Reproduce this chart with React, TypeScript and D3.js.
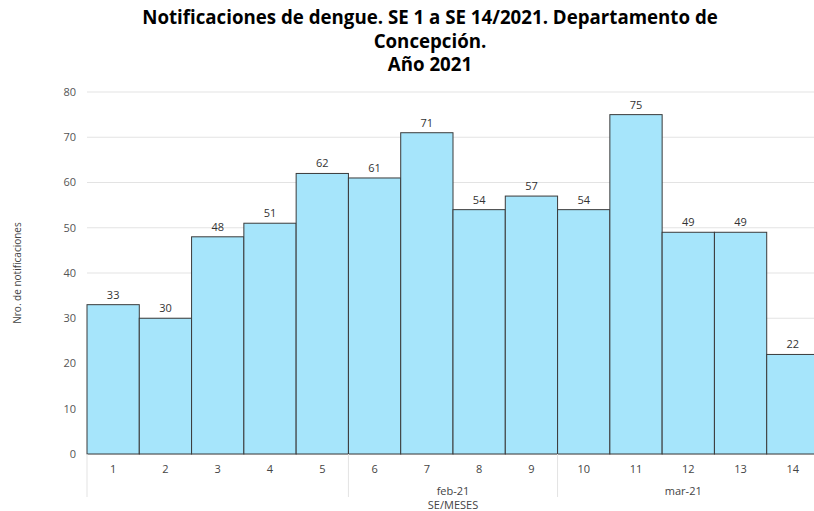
import React from 'react';
import * as d3 from 'd3';

const weeks = ['1', '2', '3', '4', '5', '6', '7', '8', '9', '10', '11', '12', '13', '14'];
const cases = [33, 30, 48, 51, 62, 61, 71, 54, 57, 54, 75, 49, 49, 22];
const months = [
  { label: '', from: '1', to: '5' },
  { label: 'feb-21', from: '6', to: '9' },
  { label: 'mar-21', from: '10', to: '14' },
];
const yTicks = [0, 10, 20, 30, 40, 50, 60, 70, 80];

const W = 814, H = 511;
const left = 87, right = 819, top = 92, bottom = 454;
const font = '"Open Sans", "Noto Sans", sans-serif';

const App: React.FC = () => {
  const x = d3.scaleBand<string>().domain(weeks).range([left, right]).padding(0);
  const y = d3.scaleLinear().domain([0, 80]).range([bottom, top]);

  return (
    <svg width={W} height={H} style={{ position: 'absolute', left: 0, top: 0, fontFamily: font }}>
      <rect width={W} height={H} fill="#fff" />
      {/* Title */}
      <g fontWeight="bold" fontSize={18.7} fill="#000" textAnchor="middle">
        <text x={430} y={24}>Notificaciones de dengue. SE 1 a SE 14/2021. Departamento de</text>
        <text x={430} y={48}>Concepción.</text>
        <text x={430} y={71}>Año 2021</text>
      </g>

      {/* Grid + y ticks */}
      {yTicks.map((t) => (
        <g key={t}>
          <line x1={left} x2={W} y1={y(t)} y2={y(t)} stroke="#e3e3e3" strokeWidth={1} />
          <text x={76} y={y(t)} dy="0.35em" textAnchor="end" fontSize={11} fill="#555">{t}</text>
        </g>
      ))}

      {/* Bars */}
      {weeks.map((w, i) => (
        <g key={w}>
          <rect
            x={x(w)!}
            y={y(cases[i])}
            width={x.bandwidth()}
            height={bottom - y(cases[i])}
            fill="#a6e5fb"
            stroke="#3a3a3a"
            strokeWidth={1}
          />
          <text x={x(w)! + x.bandwidth() / 2} y={y(cases[i]) - 6} textAnchor="middle" fontSize={11} fill="#333">
            {cases[i]}
          </text>
          <text x={x(w)! + x.bandwidth() / 2} y={469} dy="0.35em" textAnchor="middle" fontSize={11} fill="#444">
            {w}
          </text>
        </g>
      ))}

      {/* Month groups */}
      {months.map((m) => {
        const x0 = x(m.from)!;
        const x1 = Math.min(x(m.to)! + x.bandwidth(), W - 5);
        return (
          <g key={m.from}>
            <line x1={x0} x2={x0} y1={bottom} y2={497} stroke="#e3e3e3" />
            <text x={(x0 + x1) / 2} y={491} dy="0.35em" textAnchor="middle" fontSize={11} fill="#444">
              {m.label}
            </text>
          </g>
        );
      })}

      <text x={453} y={509} textAnchor="middle" fontSize={11} fill="#444">SE/MESES</text>
      <text transform={`translate(17,${(top + bottom) / 2}) rotate(-90)`} dy="0.35em" textAnchor="middle" fontSize={10} fill="#444">
        Nro. de notificaciones
      </text>
    </svg>
  );
};

export default App;
